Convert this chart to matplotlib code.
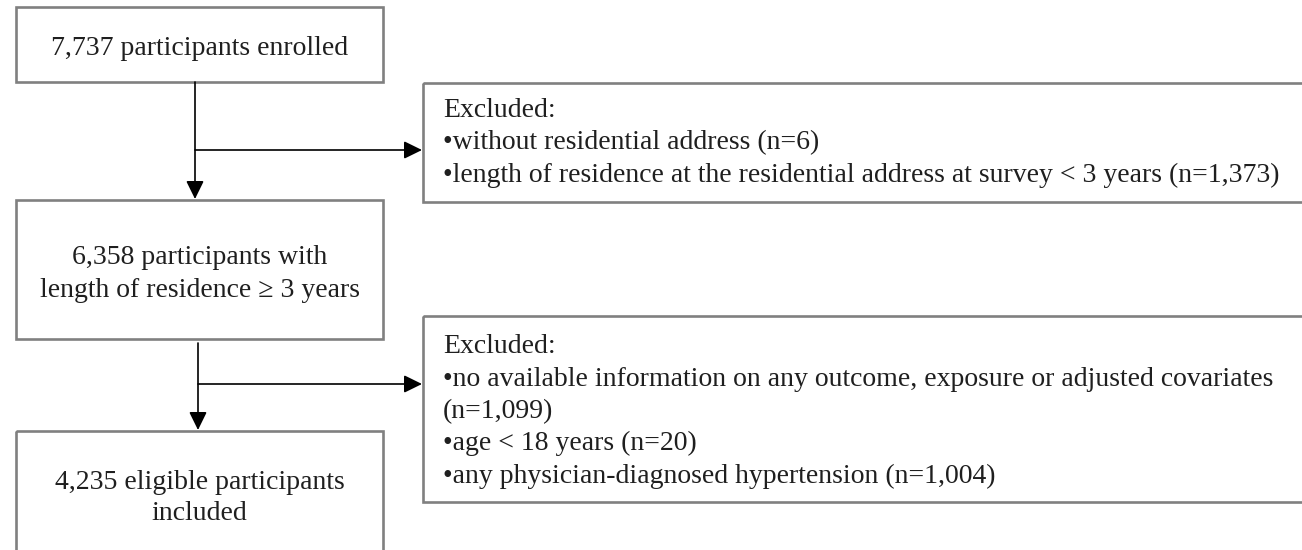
import matplotlib.pyplot as plt
from matplotlib.patches import Rectangle

# 内容
main_steps = [
    "7,737 participants enrolled",
    "6,358 participants with\nlength of residence \u2265 3 years",
    "4,235 eligible participants\nincluded",
]
excluded_1 = [
    "Excluded:",
    "\u2022without residential address (n=6)",
    "\u2022length of residence at the residential address at survey < 3 years (n=1,373)",
]
excluded_2 = [
    "Excluded:",
    "\u2022no available information on any outcome, exposure or adjusted covariates",
    "(n=1,099)",
    "\u2022age < 18 years (n=20)",
    "\u2022any physician-diagnosed hypertension (n=1,004)",
]

# レイアウト (ピクセル座標)
W, H = 1302, 550
main_boxes = [(16, 7, 383, 82), (16, 200, 383, 339), (16, 431, 383, 560)]
main_baselines = [[55], [264, 297], [489, 520]]
side_boxes = [(423, 83, 1320, 202), (423, 316, 1320, 502)]
side_baseline0 = [117, 353]
line_gap = 32.5
text_x = 443
arrows = [(195, 82, 199, 150), (198, 343, 430, 384)]  # x, y0, y1, y_branch
branch_end = 422

plt.rcParams["font.family"] = ["Liberation Serif", "DejaVu Serif"]
fig = plt.figure(figsize=(W / 100, H / 100), dpi=100)
ax = fig.add_axes([0, 0, 1, 1])
ax.set_xlim(0, W)
ax.set_ylim(H, 0)
ax.axis("off")

box_kw = dict(fill=False, edgecolor="#808080", linewidth=1.9)
txt_kw = dict(fontsize=20, color="#1f1f1f", va="baseline")

for (x0, y0, x1, y1), label, bases in zip(main_boxes, main_steps, main_baselines):
    ax.add_patch(Rectangle((x0, y0), x1 - x0, y1 - y0, **box_kw))
    for line, yb in zip(label.split("\n"), bases):
        ax.text((x0 + x1) / 2, yb, line, ha="center", **txt_kw)

for (x0, y0, x1, y1), lines, yb in zip(side_boxes, [excluded_1, excluded_2], side_baseline0):
    ax.add_patch(Rectangle((x0, y0), x1 - x0, y1 - y0, **box_kw))
    for i, line in enumerate(lines):
        ax.text(text_x, yb + i * line_gap, line, ha="left", **txt_kw)

arrow_kw = dict(arrowstyle="-|>,head_length=0.55,head_width=0.27", mutation_scale=20,
                color="black", lw=1.2, shrinkA=0, shrinkB=0)
for x, y0, y1, yb in arrows:
    ax.annotate("", xy=(x, y1), xytext=(x, y0), arrowprops=arrow_kw)
    ax.annotate("", xy=(branch_end, yb), xytext=(x, yb), arrowprops=arrow_kw)

fig.savefig("out.png", dpi=100)
